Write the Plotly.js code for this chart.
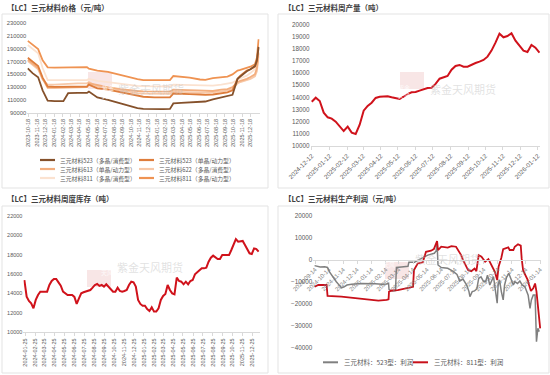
<!DOCTYPE html>
<html><head><meta charset="utf-8">
<script src="https://cdn.plot.ly/plotly-3.0.1.min.js"></script>
<style>html,body{margin:0;padding:0;background:#fff}#chart{width:550px;height:375px}</style>
</head><body><div id="chart"></div>
<script>
// ---------- Panel 1: prices ----------
const priceTitle = '【LC】三元材料价格（元/吨）';
const priceTicks = ['2023-10-18','2023-11-18','2023-12-18','2024-01-18','2024-02-18','2024-03-18','2024-04-18','2024-05-18','2024-06-18','2024-07-18','2024-08-18','2024-09-18','2024-10-18','2024-11-18','2024-12-18','2025-01-18','2025-02-18','2025-03-18','2025-04-18','2025-05-18','2025-06-18','2025-07-18','2025-08-18','2025-09-18','2025-10-18','2025-11-18','2025-12-18'];
const priceDates = ['2023-10-16','2023-11-02','2023-11-22','2023-12-08','2023-12-26','2024-01-20','2024-02-20','2024-03-08','2024-04-12','2024-05-14','2024-05-21','2024-06-20','2024-07-28','2024-09-10','2024-10-10','2024-11-10','2024-12-01','2025-01-10','2025-02-10','2025-03-06','2025-03-18','2025-04-15','2025-05-15','2025-06-21','2025-07-10','2025-08-06','2025-09-05','2025-09-27','2025-10-15','2025-11-02','2025-11-12','2025-12-05','2025-12-18','2026-01-03','2026-01-10','2026-01-16'];
const priceNames = ['三元材料523（多晶/消费型）','三元材料523（单晶/动力型）','三元材料613（单晶/动力型）','三元材料622（多晶/消费型）','三元材料811（多晶/消费型）','三元材料811（多晶/动力型）'];
const p523poly = [159500,152000,145500,125000,109000,108000,108000,120500,121000,121000,123000,114000,110000,105000,101000,97000,96000,95500,95500,96000,104500,105500,106000,106500,107500,111000,114000,116000,118000,143000,147000,155000,158000,163000,172000,193000];
const p523single = [176000,170000,163000,145000,131000,130500,130500,131000,131500,131000,134000,128000,126000,122000,119000,116000,115000,114000,114000,114000,120000,120000,119000,118500,118000,118500,120000,122000,125000,143000,148000,156000,158000,162000,170000,192000];
const p613single = [173000,167000,160000,143000,129000,129000,129000,130000,130000,130000,136000,133000,130000,127000,125000,124000,123500,123000,123000,123000,126000,125500,124500,124000,124000,124000,126000,127000,130000,138000,140000,143000,146000,150000,160000,183000];
const p622poly = [171000,165000,158000,142000,134000,134000,134000,135000,136000,136000,138000,131000,128000,125000,122000,120500,120000,119500,119500,119500,123000,122500,122000,121500,121000,122000,123500,124500,127000,136000,138000,141000,143000,147000,155000,178000];
const p811poly = [196000,190000,183000,160000,141000,141000,141000,141000,141000,141000,143000,140000,138000,135000,133000,132000,131500,131000,131000,131000,134000,133500,133000,132500,132000,132500,134000,135000,137000,142000,144000,148000,152000,158000,168000,185000];
const p811power = [202500,197000,189500,172000,161000,160500,160500,160500,161000,161500,159000,156000,154000,149000,146000,142500,141000,141000,141000,141000,147500,146500,145000,142000,141500,144000,146000,146500,150000,156000,157000,160000,162000,166000,176000,205000];
const priceColors = ['#85512b','#de7d3c','#f3ae7e','#f7c9a9','#fbe2d0','#ef9352'];

// ---------- Panel 2: weekly output ----------
const prodTitle = '【LC】三元材料周产量（吨）';
const prodTicks = ['2024-12-12','2025-01-12','2025-02-12','2025-03-12','2025-04-12','2025-05-12','2025-06-12','2025-07-12','2025-08-12','2025-09-12','2025-10-12','2025-11-12','2025-12-12','2026-01-12'];
const prodDates = ['2024-12-12','2024-12-19','2024-12-26','2025-01-02','2025-01-09','2025-01-16','2025-01-23','2025-01-30','2025-02-06','2025-02-13','2025-02-20','2025-02-27','2025-03-06','2025-03-13','2025-03-20','2025-03-27','2025-04-03','2025-04-10','2025-04-17','2025-04-24','2025-05-01','2025-05-08','2025-05-15','2025-05-22','2025-05-29','2025-06-05','2025-06-12','2025-06-19','2025-06-26','2025-07-03','2025-07-10','2025-07-17','2025-07-24','2025-07-31','2025-08-07','2025-08-14','2025-08-21','2025-08-28','2025-09-04','2025-09-11','2025-09-18','2025-09-25','2025-10-02','2025-10-09','2025-10-16','2025-10-23','2025-10-30','2025-11-06','2025-11-13','2025-11-20','2025-11-27','2025-12-04','2025-12-11','2025-12-18','2025-12-25','2026-01-01','2026-01-08','2026-01-15'];
const prodValues = [13640,13970,13700,12740,12360,12250,12000,11640,11230,11590,11100,10990,11750,12900,13290,13560,13950,14050,14080,14080,14000,13950,13860,14050,14270,14410,14440,14550,14680,14770,14790,15100,15530,15670,15750,16270,16580,16660,16520,16520,16680,16820,16930,17070,17340,17840,18490,19230,18930,19040,19260,18660,18250,17840,17730,18300,18080,17670];

// ---------- Panel 3: weekly inventory ----------
const invTitle = '【LC】三元材料周度库存（吨）';
const invTicks = ['2024-01-25','2024-02-25','2024-03-25','2024-04-25','2024-05-25','2024-06-25','2024-07-25','2024-08-25','2024-09-25','2024-10-25','2024-11-25','2024-12-25','2025-01-25','2025-02-25','2025-03-25','2025-04-25','2025-05-25','2025-06-25','2025-07-25','2025-08-25','2025-09-25','2025-10-25','2025-11-25','2025-12-25'];
const invDates = ['2024-01-23','2024-01-30','2024-02-06','2024-02-13','2024-02-20','2024-02-27','2024-03-05','2024-03-12','2024-03-19','2024-03-26','2024-04-02','2024-04-09','2024-04-16','2024-04-23','2024-04-30','2024-05-07','2024-05-14','2024-05-21','2024-05-28','2024-06-04','2024-06-11','2024-06-18','2024-06-25','2024-07-02','2024-07-09','2024-07-16','2024-07-23','2024-07-30','2024-08-06','2024-08-13','2024-08-20','2024-08-27','2024-09-03','2024-09-10','2024-09-17','2024-09-24','2024-10-01','2024-10-08','2024-10-15','2024-10-22','2024-10-29','2024-11-05','2024-11-12','2024-11-19','2024-11-26','2024-12-03','2024-12-10','2024-12-17','2024-12-24','2024-12-31','2025-01-07','2025-01-14','2025-01-21','2025-01-28','2025-02-04','2025-02-11','2025-02-18','2025-02-25','2025-03-04','2025-03-11','2025-03-18','2025-03-25','2025-04-01','2025-04-08','2025-04-15','2025-04-22','2025-04-29','2025-05-06','2025-05-13','2025-05-20','2025-05-27','2025-06-03','2025-06-10','2025-06-17','2025-06-24','2025-07-01','2025-07-08','2025-07-15','2025-07-22','2025-07-29','2025-08-05','2025-08-12','2025-08-19','2025-08-26','2025-09-02','2025-09-09','2025-09-16','2025-09-23','2025-09-30','2025-10-07','2025-10-14','2025-10-21','2025-10-28','2025-11-04','2025-11-11','2025-11-18','2025-11-25','2025-12-02','2025-12-09','2025-12-16','2025-12-23','2025-12-30','2026-01-06','2026-01-13'];
const invValues = [15380,13670,13220,12980,12470,13330,13840,14180,14180,14180,14180,14870,15280,15490,15490,15140,14800,14180,14010,13840,13840,13840,13640,12920,13500,14010,14120,14180,14250,14350,14590,14870,14970,14770,14870,14700,14940,14700,14420,14180,14180,14590,14250,14180,14250,14350,14870,15210,15140,14700,13330,12920,12740,12740,12400,12200,12570,12130,12130,12470,13330,13740,13940,14870,14350,14010,13910,15620,15280,15210,14940,15210,14940,15280,15380,15970,16170,16410,16580,16580,16650,17270,17680,17890,17680,17540,17540,17950,17950,17950,17950,18470,18980,19600,19330,19330,19400,18980,18570,18130,18060,18640,18570,18300];

// ---------- Panel 4: production profit ----------
const profitTitle = '【LC】三元材料生产利润（元/吨）';
const profitTicks = ['2024-09-14','2024-10-14','2024-11-14','2024-12-14','2025-01-14','2025-02-14','2025-03-14','2025-04-14','2025-05-14','2025-06-14','2025-07-14','2025-08-14','2025-09-14','2025-10-14','2025-11-14','2025-12-14','2026-01-14'];
const profitNames = ['三元材料：523型：利润','三元材料：811型：利润'];
const profitColors = ['#808080','#c8101a'];
const p523Dates = ['2024-09-13','2024-09-25','2024-10-05','2024-10-11','2024-10-16','2024-10-23','2024-10-30','2024-11-07','2024-11-10','2024-11-16','2024-11-22','2024-12-02','2024-12-24','2025-01-22','2025-02-06','2025-02-16','2025-02-20','2025-02-21','2025-02-27','2025-03-07','2025-03-09','2025-03-25','2025-04-03','2025-04-05','2025-04-17','2025-04-24','2025-05-05','2025-05-16','2025-05-30','2025-06-03','2025-06-05','2025-06-07','2025-06-14','2025-06-28','2025-07-09','2025-07-18','2025-07-24','2025-07-31','2025-08-08','2025-08-13','2025-08-15','2025-08-20','2025-08-25','2025-08-30','2025-09-03','2025-09-08','2025-09-13','2025-09-18','2025-09-22','2025-09-27','2025-10-05','2025-10-11','2025-10-13','2025-10-15','2025-10-18','2025-10-22','2025-10-26','2025-10-29','2025-11-02','2025-11-07','2025-11-11','2025-11-17','2025-11-20','2025-11-26','2025-12-01','2025-12-06','2025-12-12','2025-12-19','2025-12-23','2025-12-26','2025-12-30','2026-01-03','2026-01-06','2026-01-09','2026-01-12'];
const p523Profit = [-2700,-3300,-3200,-3500,-5800,-8200,-10000,-12000,-12800,-12300,-11500,-11200,-10800,-10900,-11200,-11000,-10700,-13500,-14200,-14000,-3500,-3200,-3000,-1200,-1200,-300,800,2100,2900,4000,7400,-2400,-3600,-3900,-5200,-6700,-9700,-8800,-11500,-14500,-16800,-14500,-14200,-13300,-8500,-7800,-9700,-10000,-7000,-11500,-7700,-17600,-19800,-11500,-9200,-14500,-18300,-11500,-8200,-6200,-8500,-11500,-10000,-10800,-9700,-11500,-12300,-16100,-22100,-18300,-16100,-16100,-37300,-31200,-32700];
const p811Dates = ['2024-09-13','2024-09-21','2024-10-09','2024-10-11','2024-11-10','2024-12-16','2025-01-15','2025-01-29','2025-02-16','2025-02-20','2025-02-21','2025-02-27','2025-03-12','2025-04-03','2025-04-14','2025-04-16','2025-04-24','2025-05-05','2025-05-12','2025-05-23','2025-05-29','2025-06-03','2025-06-05','2025-06-07','2025-06-14','2025-06-28','2025-07-06','2025-07-16','2025-07-20','2025-07-27','2025-07-31','2025-08-08','2025-08-11','2025-08-18','2025-08-25','2025-08-29','2025-09-03','2025-09-09','2025-09-17','2025-09-24','2025-10-01','2025-10-08','2025-10-13','2025-10-16','2025-10-22','2025-10-26','2025-11-06','2025-11-09','2025-11-17','2025-11-20','2025-11-27','2025-12-03','2025-12-05','2025-12-08','2025-12-13','2025-12-18','2025-12-21','2025-12-25','2025-12-30','2026-01-03','2026-01-06','2026-01-09','2026-01-12','2026-01-14'];
const p811Profit = [-12300,-11500,-11500,-16400,-16800,-17600,-18300,-18600,-18300,-18000,-14500,-14000,-13800,-13000,-12300,-4700,-1700,-1200,3600,4100,4800,7400,8500,4400,5900,5500,6200,5900,4400,2100,-100,-3200,-4700,-5200,-4000,-5200,2100,1400,-900,300,-2400,-5500,-9200,-3200,900,4800,5600,4400,4400,5900,7000,6400,600,-4700,-7000,-9200,-11500,-14200,-13000,-10800,-14500,-19800,-26700,-31200];

// ---------- layout helpers (pixel -> paper) ----------
const W = 550, H = 375;
const px = x => x / W;
const py = y => 1 - y / H;
const FONT = 'Noto Sans CJK SC, sans-serif';
const NUMFONT = 'Liberation Sans, Arial, sans-serif';
const gray = '#595959', lineGray = '#d9d9d9';

const traces = [];
const priceSeries = [p523poly, p523single, p613single, p622poly, p811poly, p811power];
[4,3,2,5,1,0].forEach(i => traces.push({x: priceDates, y: priceSeries[i], name: priceNames[i], type: 'scatter', mode: 'lines',
  line: {color: priceColors[i], width: 1.8}, xaxis: 'x', yaxis: 'y'}));
traces.push({x: prodDates, y: prodValues, type: 'scatter', mode: 'lines', line: {color: '#d0121b', width: 2}, xaxis: 'x2', yaxis: 'y2'});
traces.push({x: invDates, y: invValues, type: 'scatter', mode: 'lines', line: {color: '#d0121b', width: 2}, xaxis: 'x3', yaxis: 'y3'});
traces.push({x: p523Dates, y: p523Profit, type: 'scatter', mode: 'lines', line: {color: profitColors[0], width: 1.5}, xaxis: 'x4', yaxis: 'y4'});
traces.push({x: p811Dates, y: p811Profit, type: 'scatter', mode: 'lines', line: {color: profitColors[1], width: 1.8}, xaxis: 'x4', yaxis: 'y4'});

function xax(dom, range, ticks, angle, size, extra) {
  return Object.assign({type: 'date', domain: [px(dom[0]), px(dom[1])], range: range, tickmode: 'array',
    tickvals: ticks, ticktext: ticks, tickangle: angle, tickfont: {family: NUMFONT, size: size, color: gray},
    showline: true, linecolor: lineGray, linewidth: 1, ticks: 'outside', ticklen: 3, tickcolor: lineGray,
    showgrid: false, zeroline: false, fixedrange: true, automargin: false}, extra || {});
}
function yax(dom, range, dtick, size, anchor, extra) {
  return Object.assign({domain: [py(dom[1]), py(dom[0])], range: range, tick0: range[0], dtick: dtick, tickformat: 'd',
    tickfont: {family: NUMFONT, size: size, color: gray}, showgrid: false, zeroline: false, showline: false,
    ticks: '', anchor: anchor, fixedrange: true, automargin: false}, extra || {});
}

const layout = {
  width: W, height: H, margin: {l: 0, r: 0, t: 0, b: 0}, paper_bgcolor: '#fff', plot_bgcolor: 'rgba(0,0,0,0)',
  showlegend: false, font: {family: FONT, color: gray},
  xaxis: xax([27.2, 259.7], ['2023-10-14', '2026-01-20'], priceTicks, -90, 5.5, {anchor: 'y'}),
  yaxis: yax([23.3, 112.7], [90000, 230000], 20000, 5.8, 'x'),
  xaxis2: xax([310.6, 540], ['2024-12-10', '2026-01-16'], prodTicks, -45, 6.3, {anchor: 'y2'}),
  yaxis2: yax([24.3, 146], [10000, 20000], 1000, 6.3, 'x2'),
  xaxis3: xax([23.4, 259.6], ['2024-01-20', '2026-01-16'], invTicks, -90, 5.5, {anchor: 'y3'}),
  yaxis3: yax([215.7, 332.3], [10000, 22000], 2000, 5.5, 'x3'),
  xaxis4: xax([313.2, 541.1], ['2024-09-10', '2026-01-16'], profitTicks, -45, 6, {anchor: 'free', position: py(259.7), tickfont: {family: NUMFONT, size: 6, color: '#7f7f7f'}}),
  yaxis4: yax([215.7, 347.7], [-40000, 20000], 10000, 6.3, 'x4'),
  shapes: [], annotations: []
};

// panel frames
[[2, 14, 268, 188], [278, 14, 549, 188], [2, 206, 268, 373], [278, 206, 549, 373]].forEach(b => {
  layout.shapes.push({type: 'rect', xref: 'paper', yref: 'paper', x0: px(b[0]), x1: px(b[2]), y0: py(b[3]), y1: py(b[1]),
    line: {color: '#e3e3e3', width: 1}, fillcolor: 'rgba(0,0,0,0)', layer: 'below'});
});
// titles
[[priceTitle, 5, 7.5], [prodTitle, 282, 7.5], [invTitle, 5, 198.5], [profitTitle, 282, 198.5]].forEach(t => {
  layout.annotations.push({text: '<b>' + t[0] + '</b>', xref: 'paper', yref: 'paper', x: px(t[1]), y: py(t[2]),
    xanchor: 'left', yanchor: 'middle', showarrow: false, font: {family: FONT, size: 7.5, color: '#404040'}});
});
// watermarks
[[88, 72, 185], [400, 72, 497], [87, 270, 185], [385, 262, 470]].forEach(w => {
  layout.shapes.push({type: 'rect', xref: 'paper', yref: 'paper', x0: px(w[0]), x1: px(w[0] + 24), y0: py(w[1] + 17), y1: py(w[1]),
    line: {width: 0}, fillcolor: 'rgba(225,140,140,0.22)', layer: 'below'});
  layout.annotations.push({text: '紫金<br>天风', xref: 'paper', yref: 'paper', x: px(w[0] + 12), y: py(w[1] + 8.5), showarrow: false,
    font: {family: FONT, size: 6, color: 'rgba(255,255,255,0.8)'}});
  layout.annotations.push({text: '紫金天风期货', xref: 'paper', yref: 'paper', x: px(w[0] + 28), y: py(w[1] + 7), xanchor: 'left', showarrow: false,
    font: {family: FONT, size: 11, color: 'rgba(190,190,190,0.45)'}});
});
// legend panel 1
priceNames.forEach((n, i) => {
  const col = i % 2, row = Math.floor(i / 2);
  const x0 = col ? 139 : 40, y = 160 + row * 9;
  layout.shapes.push({type: 'line', xref: 'paper', yref: 'paper', x0: px(x0), x1: px(x0 + 15), y0: py(y), y1: py(y),
    line: {color: priceColors[i], width: 2.2}});
  layout.annotations.push({text: n, xref: 'paper', yref: 'paper', x: px(x0 + 18), y: py(y), xanchor: 'left', yanchor: 'middle',
    showarrow: false, font: {family: FONT, size: 5.8, color: gray}});
});
// legend panel 4
[[323, 342], [413, 432]].forEach((p, i) => {
  layout.shapes.push({type: 'line', xref: 'paper', yref: 'paper', x0: px(p[0]), x1: px(p[0] + 15), y0: py(362.3), y1: py(362.3),
    line: {color: profitColors[i], width: 2}});
  layout.annotations.push({text: profitNames[i], xref: 'paper', yref: 'paper', x: px(p[1]), y: py(362.3), xanchor: 'left', yanchor: 'middle',
    showarrow: false, font: {family: FONT, size: 6.5, color: gray}});
});

Plotly.newPlot('chart', traces, layout, {staticPlot: true, displayModeBar: false});
</script></body></html>
